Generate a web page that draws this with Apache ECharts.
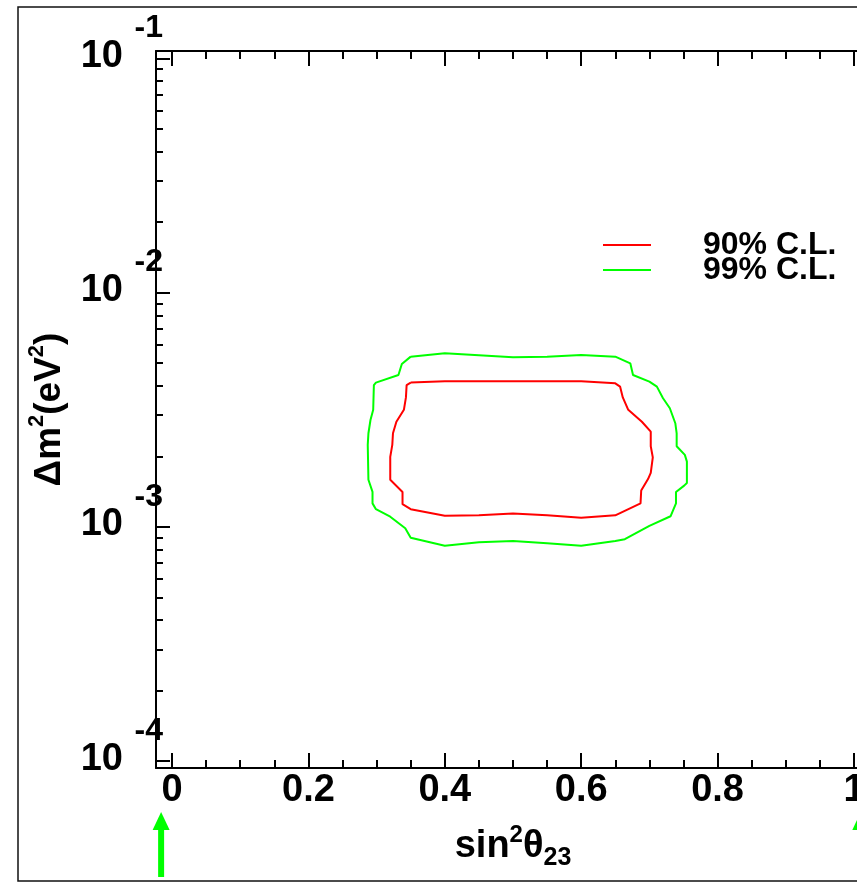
<!DOCTYPE html>
<html><head><meta charset="utf-8">
<script src="https://cdn.jsdelivr.net/npm/echarts@6/dist/echarts.min.js"></script>
<style>html,body{margin:0;padding:0;background:#fff}#c{width:857px;height:882px}</style>
</head><body><div id="c"></div><script>
// ---- data ----
const seriesNames = ['90% C.L.', '99% C.L.'];
const contour90 = [[0.35,4.13e-3],[0.40,4.18e-3],[0.45,4.18e-3],[0.50,4.18e-3],[0.55,4.18e-3],[0.60,4.18e-3],[0.65,4.10e-3],[0.657,3.97e-3],[0.661,3.57e-3],[0.669,3.16e-3],[0.689,2.81e-3],[0.702,2.55e-3],[0.702,2.21e-3],[0.705,1.98e-3],[0.702,1.70e-3],[0.698,1.60e-3],[0.688,1.43e-3],[0.687,1.26e-3],[0.65,1.12e-3],[0.60,1.095e-3],[0.55,1.12e-3],[0.50,1.14e-3],[0.45,1.12e-3],[0.40,1.116e-3],[0.35,1.19e-3],[0.338,1.25e-3],[0.338,1.41e-3],[0.32,1.59e-3],[0.32,1.99e-3],[0.323,2.24e-3],[0.324,2.51e-3],[0.329,2.81e-3],[0.34,3.16e-3],[0.343,3.57e-3],[0.344,4.03e-3],[0.35,4.13e-3]];
const contour99 = [[0.35,5.33e-3],[0.40,5.51e-3],[0.50,5.30e-3],[0.55,5.33e-3],[0.60,5.42e-3],[0.65,5.33e-3],[0.672,4.99e-3],[0.676,4.45e-3],[0.70,4.17e-3],[0.711,3.97e-3],[0.72,3.54e-3],[0.73,3.21e-3],[0.738,2.77e-3],[0.74,2.51e-3],[0.74,2.21e-3],[0.752,2.03e-3],[0.755,1.90e-3],[0.755,1.54e-3],[0.751,1.50e-3],[0.739,1.41e-3],[0.739,1.26e-3],[0.731,1.11e-3],[0.70,1.01e-3],[0.664,8.86e-4],[0.65,8.71e-4],[0.60,8.31e-4],[0.55,8.51e-4],[0.50,8.71e-4],[0.45,8.60e-4],[0.40,8.31e-4],[0.35,8.99e-4],[0.342,9.86e-4],[0.32,1.105e-3],[0.299,1.19e-3],[0.294,1.26e-3],[0.294,1.41e-3],[0.288,1.59e-3],[0.287,2.24e-3],[0.288,2.51e-3],[0.291,2.86e-3],[0.295,3.16e-3],[0.296,4.03e-3],[0.299,4.13e-3],[0.332,4.45e-3],[0.337,4.96e-3],[0.35,5.33e-3]];
const xMajorTicks = [0, 0.2, 0.4, 0.6, 0.8, 1];
const xMinorTicks = [0.05,0.1,0.15,0.25,0.3,0.35,0.45,0.5,0.55,0.65,0.7,0.75,0.85,0.9,0.95];
const yMajorTicks = [1e-4, 1e-3, 1e-2, 1e-1];
const yMinorTicks = [2e-4,3e-4,4e-4,5e-4,6e-4,7e-4,8e-4,9e-4,2e-3,3e-3,4e-3,5e-3,6e-3,7e-3,8e-3,9e-3,2e-2,3e-2,4e-2,5e-2,6e-2,7e-2,8e-2,9e-2];
const xRange = [-0.0235, 1.0235];
const yRange = [9.35e-5, 0.1075];
const arrowX = [-0.016, 1.01];
const xTitle = '{a|sin}{s|2}{a|θ}{d|23}';
const yTitle = '{a|Δm}{s|2}{a|(eV}{s|2}{a|)}';

// ---- chart ----
const F = "'Liberation Sans', Arial, Helvetica, sans-serif";
const chart = echarts.init(document.getElementById('c'), null, {renderer: 'canvas'});
const lineAx = {show: true, onZero: false, lineStyle: {color: '#000', width: 2}};
const noLine = {show: false, onZero: false};
function xAx(pos, major) {
  return {
    type: 'value', position: pos, min: xRange[0], max: xRange[1],
    axisLine: major ? lineAx : noLine,
    splitLine: {show: false},
    axisTick: {show: true, inside: true, length: major ? 15 : 8, lineStyle: {color: '#000', width: 2},
      customValues: major ? xMajorTicks : xMinorTicks},
    axisLabel: (major && pos === 'bottom') ? {show: true, customValues: xMajorTicks, margin: 4,
      fontFamily: F, fontWeight: 'bold', fontSize: 38, color: '#000', hideOverlap: false} : {show: false},
  };
}
const xAxes = [xAx('bottom', true), xAx('bottom', false), xAx('top', true), xAx('top', false)];
xAxes[0].name = xTitle;
xAxes[0].nameLocation = 'middle';
xAxes[0].nameGap = 55;
xAxes[0].nameTextStyle = {color: '#000', rich: {
  a: {fontFamily: F, fontWeight: 'bold', fontSize: 38, lineHeight: 48, color: '#000'},
  s: {fontFamily: F, fontWeight: 'bold', fontSize: 24, lineHeight: 22, verticalAlign: 'top', color: '#000'},
  d: {fontFamily: F, fontWeight: 'bold', fontSize: 25, lineHeight: 22, verticalAlign: 'bottom', color: '#000'}
}};
const yAxes = [
  {type: 'log', position: 'left', min: yRange[0], max: yRange[1],
   axisLine: lineAx, splitLine: {show: false},
   axisTick: {show: true, inside: true, length: 14, lineStyle: {color: '#000', width: 2}, customValues: yMajorTicks},
   axisLabel: {show: true, customValues: yMajorTicks, margin: -7, padding: [0, 0, 30, 0],
     formatter: function (v) { return '{e|' + Math.round(Math.log10(v)) + '}\n{b|10}'; },
     rich: {
       e: {fontFamily: F, fontWeight: 'bold', fontSize: 32, lineHeight: 26, color: '#000'},
       b: {fontFamily: F, fontWeight: 'bold', fontSize: 38, lineHeight: 30, padding: [0, 40, 0, 0], color: '#000'}
     }},
   name: yTitle, nameLocation: 'middle', nameGap: 82, nameRotate: 90,
   nameTextStyle: {color: '#000', rich: {
     a: {fontFamily: F, fontWeight: 'bold', fontSize: 37, lineHeight: 48, color: '#000'},
     s: {fontFamily: F, fontWeight: 'bold', fontSize: 22, lineHeight: 22, verticalAlign: 'top', color: '#000'}
   }}},
  {type: 'log', position: 'left', min: yRange[0], max: yRange[1],
   axisLine: noLine, splitLine: {show: false},
   axisTick: {show: true, inside: true, length: 7, lineStyle: {color: '#000', width: 2}, customValues: yMinorTicks},
   axisLabel: {show: false}}
];
function leg(name, top, pad) {
  return {show: true, data: [{name: name, textStyle: {padding: pad}}], left: 603, top: top, padding: 0,
    icon: 'rect', itemWidth: 48, itemHeight: 2, selectedMode: false,
    textStyle: {fontFamily: F, fontWeight: 'bold', fontSize: 32, lineHeight: 26, color: '#000'}};
}
chart.setOption({
  animation: false,
  backgroundColor: '#fff',
  grid: {left: 156, top: 51, width: 714, height: 717, containLabel: false, outerBoundsMode: 'none'},
  xAxis: xAxes,
  yAxis: yAxes,
  legend: [leg(seriesNames[0], 228, [8, 0, 0, 47]), leg(seriesNames[1], 254, [0, 0, 4, 47])],
  series: [
    {name: seriesNames[0], type: 'line', data: contour90, xAxisIndex: 0, yAxisIndex: 0, symbol: 'none', smooth: false,
     color: '#ff0000', lineStyle: {color: '#ff0000', width: 2}},
    {name: seriesNames[1], type: 'line', data: contour99, xAxisIndex: 0, yAxisIndex: 0, symbol: 'none', smooth: false,
     color: '#00ff00', lineStyle: {color: '#00ff00', width: 2}}
  ]
});
const g = [{type: 'rect', shape: {x: 18, y: 7, width: 900, height: 874}, style: {fill: 'none', stroke: '#111', lineWidth: 1.5}, silent: true}];
arrowX.forEach(function (v) {
  const px = chart.convertToPixel({xAxisIndex: 0}, v);
  g.push({type: 'polygon', shape: {points: [[px, 812], [px - 8.5, 830], [px + 8.5, 830]]}, style: {fill: '#00ff00'}, silent: true});
  g.push({type: 'rect', shape: {x: px - 3, y: 829, width: 6, height: 48}, style: {fill: '#00ff00'}, silent: true});
});
chart.setOption({graphic: g});
</script></body></html>
